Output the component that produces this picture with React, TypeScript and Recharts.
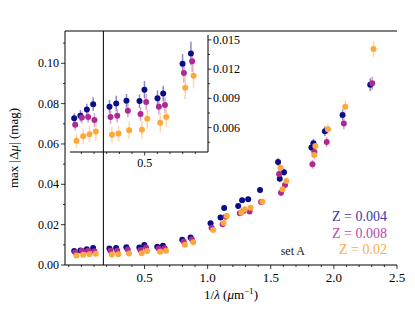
import React from "react";
import { ScatterChart, Scatter, XAxis, YAxis, ErrorBar, ReferenceLine } from "recharts";

const FONT = "'Liberation Serif', 'DejaVu Serif', serif";

// Z = 0.004
const x004 = [-0.057, -0.008, 0.043, 0.093, 0.222, 0.275, 0.356, 0.459, 0.498, 0.601, 0.646, 0.799, 0.865, 1.023, 1.102, 1.131, 1.242, 1.273, 1.321, 1.415, 1.558, 1.571, 1.605, 1.822, 1.838, 1.929, 2.069, 2.288];
const y004 = [0.00695, 0.00722, 0.00786, 0.00841, 0.00814, 0.00847, 0.00875, 0.00872, 0.00989, 0.00902, 0.00949, 0.01254, 0.0136, 0.0207, 0.0236, 0.0283, 0.0293, 0.0321, 0.0326, 0.0372, 0.0511, 0.0428, 0.046, 0.0582, 0.0603, 0.0663, 0.0744, 0.0894];
const e004 = [0.0005, 0.0006, 0.0006, 0.0007, 0.0007, 0.0008, 0.0007, 0.0007, 0.0009, 0.0008, 0.0008, 0.001, 0.0012, 0.001, 0.0011, 0.0012, 0.0012, 0.0013, 0.0013, 0.0015, 0.002, 0.0017, 0.0018, 0.0022, 0.0023, 0.0025, 0.0028, 0.0032];

// Z = 0.008
const x008 = [-0.049, 0.004, 0.053, 0.103, 0.23, 0.283, 0.367, 0.467, 0.512, 0.612, 0.66, 0.81, 0.875, 1.031, 1.118, 1.142, 1.255, 1.283, 1.332, 1.423, 1.566, 1.581, 1.613, 1.83, 1.846, 1.943, 2.079, 2.304];
const y008 = [0.0063, 0.00705, 0.00709, 0.00678, 0.00709, 0.00722, 0.00773, 0.00739, 0.00864, 0.00814, 0.00831, 0.01159, 0.01281, 0.0185, 0.0202, 0.0239, 0.0256, 0.0268, 0.0265, 0.0312, 0.0451, 0.0358, 0.0397, 0.0499, 0.056, 0.061, 0.0701, 0.0901];
const e008 = [0.0006, 0.0006, 0.0006, 0.0007, 0.0007, 0.0007, 0.0007, 0.0007, 0.0008, 0.0008, 0.0008, 0.001, 0.0011, 0.001, 0.0011, 0.0012, 0.0012, 0.0013, 0.0013, 0.0015, 0.002, 0.0017, 0.0018, 0.0022, 0.0023, 0.0025, 0.0028, 0.0033];

// Z = 0.02
const x02 = [-0.039, 0.014, 0.064, 0.114, 0.241, 0.293, 0.377, 0.478, 0.52, 0.623, 0.67, 0.82, 0.886, 1.044, 1.126, 1.152, 1.267, 1.294, 1.34, 1.434, 1.577, 1.593, 1.624, 1.844, 1.853, 1.953, 2.09, 2.314];
const y02 = [0.00465, 0.00512, 0.00532, 0.00559, 0.00526, 0.00539, 0.00573, 0.00577, 0.00692, 0.00651, 0.00709, 0.0101, 0.01132, 0.0174, 0.0208, 0.0243, 0.0259, 0.0276, 0.0284, 0.0314, 0.0482, 0.0375, 0.0416, 0.0545, 0.059, 0.0673, 0.0785, 0.1071];
const e02 = [0.0007, 0.0008, 0.0008, 0.0009, 0.0008, 0.0008, 0.0009, 0.0009, 0.001, 0.001, 0.001, 0.0012, 0.0013, 0.001, 0.0012, 0.0013, 0.0013, 0.0014, 0.0014, 0.0016, 0.0022, 0.0018, 0.0019, 0.0024, 0.0025, 0.0028, 0.0032, 0.004];

// photometric bands on the top axis
const bandNames = ["W", "3.6", "K", "H", "J", "I", "R", "V", "B"];
const bandPos = [0.048, 0.275, 0.459, 0.601, 0.796, 1.128, 1.571, 1.824, 2.29];
const splitX = 0.174;

const xTicks = [-0.1, 0, 0.1, 0.2, 0.3, 0.4, 0.5, 0.6, 0.7, 0.8, 0.9, 1.0, 1.1, 1.2, 1.3, 1.4, 1.5, 1.6, 1.7, 1.8, 1.9, 2.0, 2.1, 2.2, 2.3, 2.4, 2.5];
const yTicks = [0, 0.01, 0.02, 0.03, 0.04, 0.05, 0.06, 0.07, 0.08, 0.09, 0.1, 0.11];
const insetXTicks = [0, 0.1, 0.2, 0.3, 0.4, 0.5, 0.6, 0.7, 0.8, 0.9];
const insetYTicks = [0.0045, 0.006, 0.0075, 0.009, 0.0105, 0.012, 0.0135, 0.015];

const series = [
  { name: "Z = 0.004", xs: x004, ys: y004, es: e004, color: "#0c0c86", bar: "#8a8ac4", text: "#3a3aa6" },
  { name: "Z = 0.008", xs: x008, ys: y008, es: e008, color: "#ad2a94", bar: "#d9a0cc", text: "#bb4aa6" },
  { name: "Z = 0.02", xs: x02, ys: y02, es: e02, color: "#fda83c", bar: "#fdd7a6", text: "#fdac4c" },
].map((s) => ({ ...s, data: s.xs.map((x, i) => ({ x, y: s.ys[i], err: s.es[i] })) }));

const dot = (color: string) => (p: any) => <circle cx={p.cx} cy={p.cy} r={3} fill={color} />;

function BottomTick(p: any) {
  const v = p.payload.value;
  const major = Math.round(v * 10) % 5 === 0 && v > 0;
  return (
    <g>
      <line x1={p.x} x2={p.x} y1={p.y} y2={p.y + (major ? 4 : 2)} stroke="#000" strokeWidth={0.8} />
      {major && (
        <text x={p.x} y={p.y + 17} textAnchor="middle" fontFamily={FONT} fontSize={13} fill="#000">
          {v.toFixed(1)}
        </text>
      )}
    </g>
  );
}

function LeftTick(p: any) {
  const v = p.payload.value;
  const major = Math.round(v * 100) % 2 === 0;
  return (
    <g>
      <line x1={p.x - (major ? 4 : 2)} x2={p.x} y1={p.y} y2={p.y} stroke="#000" strokeWidth={0.8} />
      {major && (
        <text x={p.x - 6} y={p.y + 4} textAnchor="end" fontFamily={FONT} fontSize={12} fill="#000">
          {v.toFixed(2)}
        </text>
      )}
    </g>
  );
}

function TopTick(p: any) {
  const i = bandPos.indexOf(p.payload.value);
  return (
    <g>
      <line x1={p.x} x2={p.x} y1={p.y} y2={p.y - 3.5} stroke="#000" strokeWidth={0.8} />
      <text x={p.x} y={p.y - 8} textAnchor="middle" fontFamily={FONT} fontSize={13} fill="#000">
        {bandNames[i]}
      </text>
    </g>
  );
}

function InsetBottomTick(p: any) {
  const v = p.payload.value;
  const major = Math.abs(v - 0.5) < 1e-6;
  return (
    <g>
      <line x1={p.x} x2={p.x} y1={p.y} y2={p.y + (major ? 3.5 : 2)} stroke="#000" strokeWidth={0.8} />
      {major && (
        <text x={p.x} y={p.y + 15} textAnchor="middle" fontFamily={FONT} fontSize={12} fill="#000">
          0.5
        </text>
      )}
    </g>
  );
}

function InsetRightTick(p: any) {
  const v = p.payload.value;
  const major = Math.round(v * 10000) % 30 === 0;
  return (
    <g>
      <line x1={p.x} x2={p.x + (major ? 3.5 : 2)} y1={p.y} y2={p.y} stroke="#000" strokeWidth={0.8} />
      {major && (
        <text x={p.x + 5} y={p.y + 4} textAnchor="start" fontFamily={FONT} fontSize={12} fill="#000">
          {v.toFixed(3)}
        </text>
      )}
    </g>
  );
}

export default function App() {
  const axisLine = { stroke: "#000", strokeWidth: 1 };
  return (
    <div style={{ position: "absolute", left: 0, top: 0, width: 415, height: 312, background: "#fff" }}>
      <ScatterChart width={415} height={312} margin={{ top: 11, right: 18, bottom: 17, left: 20 }}>
        <XAxis
          type="number"
          dataKey="x"
          domain={[-0.13, 2.5]}
          ticks={xTicks}
          interval={0}
          allowDataOverflow
          height={30}
          tickSize={0}
          tickMargin={0}
          axisLine={axisLine}
          tickLine={false}
          tick={(p: any) => <BottomTick {...p} />}
        />
        <XAxis
          xAxisId="top"
          orientation="top"
          type="number"
          domain={[-0.13, 2.5]}
          ticks={bandPos}
          interval={0}
          allowDataOverflow
          height={20}
          tickSize={0}
          tickMargin={0}
          axisLine={axisLine}
          tickLine={false}
          tick={(p: any) => <TopTick {...p} />}
        />
        <YAxis
          type="number"
          dataKey="y"
          domain={[0, 0.116]}
          ticks={yTicks}
          interval={0}
          allowDataOverflow
          width={45}
          tickSize={0}
          tickMargin={0}
          axisLine={axisLine}
          tickLine={false}
          tick={(p: any) => <LeftTick {...p} />}
        />
        <YAxis yAxisId="right" orientation="right" type="number" domain={[0, 0.116]} width={0} tick={false} tickLine={false} axisLine={axisLine} />
        <ReferenceLine x={splitX} stroke="#000" strokeWidth={1} ifOverflow="hidden" />
        {series.map((s) => (
          <Scatter key={s.name} data={s.data} isAnimationActive={false} shape={dot(s.color)}>
            <ErrorBar dataKey="err" direction="y" width={0} stroke={s.bar} strokeWidth={1.5} isAnimationActive={false} />
          </Scatter>
        ))}
      </ScatterChart>

      <div style={{ position: "absolute", left: 50, top: 25 }}>
        <ScatterChart width={200} height={149} margin={{ top: 10, right: 2, bottom: 2, left: 20 }}>
          <XAxis
            type="number"
            dataKey="x"
            domain={[-0.09, 1.0]}
            ticks={insetXTicks}
            interval={0}
            allowDataOverflow
            height={20}
            tickSize={0}
            tickMargin={0}
            axisLine={axisLine}
            tickLine={false}
            tick={(p: any) => <InsetBottomTick {...p} />}
          />
          <XAxis xAxisId="t" orientation="top" type="number" domain={[-0.09, 1.0]} height={0} tick={false} tickLine={false} axisLine={axisLine} />
          <YAxis
            type="number"
            dataKey="y"
            orientation="right"
            domain={[0.0035, 0.0155]}
            ticks={insetYTicks}
            interval={0}
            allowDataOverflow
            width={40}
            tickSize={0}
            tickMargin={0}
            axisLine={axisLine}
            tickLine={false}
            tick={(p: any) => <InsetRightTick {...p} />}
          />
          <YAxis yAxisId="l" orientation="left" type="number" domain={[0.0035, 0.0155]} width={0} tick={false} tickLine={false} axisLine={axisLine} />
          {series.map((s) => (
            <Scatter key={s.name} data={s.data.filter((d) => d.x < 1)} isAnimationActive={false} shape={dot(s.color)}>
              <ErrorBar dataKey="err" direction="y" width={0} stroke={s.bar} strokeWidth={1.5} isAnimationActive={false} />
            </Scatter>
          ))}
        </ScatterChart>
      </div>

      <svg width={415} height={312} style={{ position: "absolute", left: 0, top: 0, pointerEvents: "none" }}>
        <text x={15} y={148} transform="rotate(-90 15 148)" textAnchor="middle" dominantBaseline="middle" fontFamily={FONT} fontSize={13} fill="#000">
          max |Δ<tspan fontStyle="italic">μ</tspan>| (mag)
        </text>
        <text x={231} y={299} textAnchor="middle" fontFamily={FONT} fontSize={13} fill="#000">
          1/<tspan fontStyle="italic">λ</tspan> (<tspan fontStyle="italic">μ</tspan>m
          <tspan dy={-5} fontSize={9}>−1</tspan>
          <tspan dy={5}>)</tspan>
        </text>
        {series.map((s, i) => (
          <text key={s.name} x={387} y={221 + i * 16.7} textAnchor="end" fontFamily={FONT} fontSize={14} fill={s.text}>
            {s.name}
          </text>
        ))}
        <text x={305} y={254.5} textAnchor="end" fontFamily={FONT} fontSize={12} fill="#222">
          set A
        </text>
      </svg>
    </div>
  );
}
